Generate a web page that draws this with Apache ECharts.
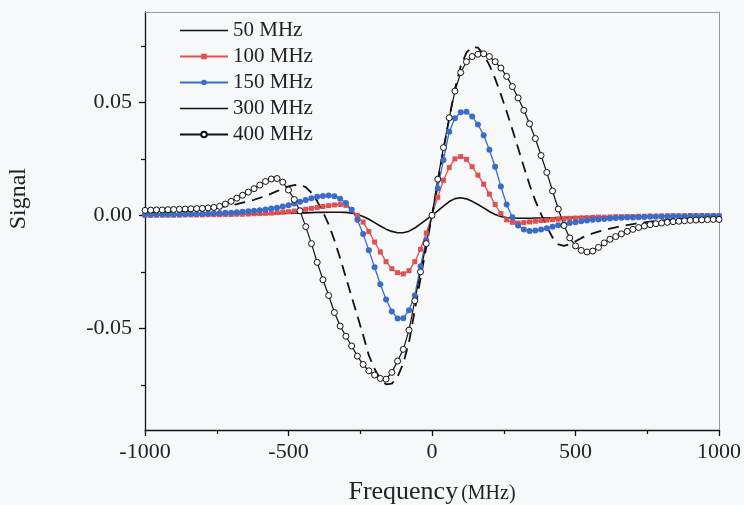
<!DOCTYPE html>
<html>
<head>
<meta charset="utf-8">
<script src="https://cdn.jsdelivr.net/npm/echarts@6/dist/echarts.min.js"></script>
<style>
html,body{margin:0;padding:0;background:#f7f8fa;}
#chart{width:744px;height:505px;}
</style>
</head>
<body>
<div id="chart"></div>
<script>
// Frequency grid (MHz)
const freq = [-1000,-980,-960,-940,-920,-900,-880,-860,-840,-820,-800,-780,-760,-740,-720,-700,-680,-660,-640,-620,-600,-580,-560,-540,-520,-500,-480,-460,-440,-420,-400,-380,-360,-340,-320,-300,-280,-260,-240,-220,-200,-180,-160,-140,-120,-100,-80,-60,-40,-20,0,20,40,60,80,100,120,140,160,180,200,220,240,260,280,300,320,340,360,380,400,420,440,460,480,500,520,540,560,580,600,620,640,660,680,700,720,740,760,780,800,820,840,860,880,900,920,940,960,980,1000];

const seriesNames = ['50 MHz','100 MHz','150 MHz','300 MHz','400 MHz'];

const s50 = [0.0001,0.0001,0.0001,0.0001,0.0001,0.0002,0.0002,0.0002,0.0002,0.0002,0.0003,0.0003,0.0003,0.0003,0.0004,0.0004,0.0004,0.0005,0.0005,0.0006,0.0006,0.0007,0.0007,0.0008,0.0008,0.0009,0.0010,0.0010,0.0011,0.0012,0.0013,0.0013,0.0014,0.0014,0.0014,0.0013,0.0010,0.0004,-0.0005,-0.0017,-0.0032,-0.0047,-0.0061,-0.0071,-0.0077,-0.0077,-0.0070,-0.0056,-0.0038,-0.0019,0.0000,0.0020,0.0041,0.0061,0.0074,0.0078,0.0073,0.0062,0.0048,0.0033,0.0017,0.0004,-0.0005,-0.0010,-0.0012,-0.0013,-0.0013,-0.0013,-0.0012,-0.0012,-0.0011,-0.0011,-0.0010,-0.0010,-0.0009,-0.0009,-0.0008,-0.0008,-0.0007,-0.0007,-0.0006,-0.0006,-0.0005,-0.0005,-0.0005,-0.0004,-0.0004,-0.0004,-0.0003,-0.0003,-0.0003,-0.0003,-0.0002,-0.0002,-0.0002,-0.0002,-0.0002,-0.0001,-0.0001,-0.0001,-0.0001];

const s100 = [0.0000,0.0000,0.0001,0.0001,0.0001,0.0001,0.0001,0.0002,0.0002,0.0002,0.0002,0.0003,0.0003,0.0003,0.0004,0.0004,0.0005,0.0005,0.0006,0.0007,0.0008,0.0009,0.0010,0.0012,0.0014,0.0016,0.0019,0.0023,0.0027,0.0031,0.0035,0.0039,0.0043,0.0046,0.0048,0.0044,0.0025,0.0000,-0.0030,-0.0072,-0.0118,-0.0162,-0.0205,-0.0236,-0.0254,-0.0259,-0.0245,-0.0205,-0.0150,-0.0078,0.0000,0.0080,0.0155,0.0212,0.0250,0.0260,0.0248,0.0215,0.0178,0.0138,0.0094,0.0048,0.0008,-0.0020,-0.0031,-0.0034,-0.0032,-0.0029,-0.0026,-0.0023,-0.0021,-0.0019,-0.0017,-0.0015,-0.0013,-0.0012,-0.0011,-0.0010,-0.0009,-0.0008,-0.0008,-0.0007,-0.0006,-0.0006,-0.0005,-0.0005,-0.0004,-0.0004,-0.0003,-0.0003,-0.0003,-0.0002,-0.0002,-0.0002,-0.0002,-0.0001,-0.0001,-0.0001,-0.0001,-0.0001,-0.0001];

const s150 = [0.0003,0.0003,0.0003,0.0004,0.0004,0.0004,0.0005,0.0005,0.0006,0.0006,0.0007,0.0008,0.0009,0.0010,0.0011,0.0012,0.0014,0.0016,0.0018,0.0020,0.0023,0.0026,0.0030,0.0034,0.0039,0.0045,0.0052,0.0060,0.0068,0.0076,0.0082,0.0086,0.0088,0.0085,0.0074,0.0055,0.0025,-0.0020,-0.0082,-0.0155,-0.0230,-0.0305,-0.0372,-0.0425,-0.0456,-0.0455,-0.0420,-0.0355,-0.0225,-0.0110,0.0000,0.0120,0.0245,0.0370,0.0430,0.0456,0.0458,0.0437,0.0402,0.0355,0.0290,0.0215,0.0128,0.0048,-0.0008,-0.0045,-0.0063,-0.0069,-0.0067,-0.0063,-0.0057,-0.0050,-0.0044,-0.0039,-0.0034,-0.0030,-0.0026,-0.0023,-0.0020,-0.0018,-0.0016,-0.0014,-0.0012,-0.0011,-0.0010,-0.0009,-0.0008,-0.0007,-0.0006,-0.0006,-0.0005,-0.0005,-0.0004,-0.0004,-0.0004,-0.0003,-0.0003,-0.0003,-0.0003,-0.0003,-0.0003];

const s300 = [0.0010,0.0011,0.0012,0.0013,0.0014,0.0015,0.0017,0.0019,0.0021,0.0023,0.0026,0.0029,0.0032,0.0036,0.0040,0.0045,0.0050,0.0056,0.0062,0.0069,0.0077,0.0086,0.0096,0.0107,0.0118,0.0128,0.0134,0.0135,0.0125,0.0100,0.0062,0.0015,-0.0040,-0.0110,-0.0190,-0.0275,-0.0360,-0.0445,-0.0530,-0.0620,-0.0680,-0.0725,-0.0748,-0.0745,-0.0715,-0.0655,-0.0560,-0.0420,-0.0280,-0.0140,0.0000,0.0145,0.0290,0.0430,0.0560,0.0660,0.0720,0.0745,0.0742,0.0712,0.0665,0.0605,0.0535,0.0460,0.0380,0.0298,0.0215,0.0135,0.0065,0.0005,-0.0050,-0.0098,-0.0128,-0.0135,-0.0128,-0.0115,-0.0101,-0.0088,-0.0080,-0.0072,-0.0066,-0.0059,-0.0053,-0.0048,-0.0043,-0.0039,-0.0034,-0.0031,-0.0028,-0.0025,-0.0023,-0.0020,-0.0018,-0.0016,-0.0014,-0.0013,-0.0012,-0.0011,-0.0010,-0.0009,-0.0008];

const s400 = [0.0022,0.0023,0.0024,0.0024,0.0025,0.0026,0.0027,0.0028,0.0029,0.0030,0.0031,0.0033,0.0035,0.0040,0.0050,0.0062,0.0076,0.0089,0.0103,0.0118,0.0134,0.0150,0.0161,0.0163,0.0147,0.0112,0.0070,0.0020,-0.0050,-0.0125,-0.0208,-0.0285,-0.0355,-0.0430,-0.0490,-0.0535,-0.0578,-0.0623,-0.0660,-0.0688,-0.0707,-0.0722,-0.0725,-0.0695,-0.0645,-0.0593,-0.0508,-0.0378,-0.0250,-0.0125,0.0000,0.0160,0.0300,0.0432,0.0550,0.0632,0.0680,0.0703,0.0713,0.0715,0.0703,0.0680,0.0652,0.0615,0.0570,0.0520,0.0465,0.0405,0.0340,0.0265,0.0190,0.0108,0.0028,-0.0045,-0.0100,-0.0135,-0.0155,-0.0162,-0.0158,-0.0142,-0.0122,-0.0106,-0.0094,-0.0082,-0.0071,-0.0062,-0.0054,-0.0047,-0.0041,-0.0037,-0.0034,-0.0031,-0.0028,-0.0026,-0.0024,-0.0022,-0.0021,-0.0020,-0.0019,-0.0018,-0.0018];

const yMajorTicks = [-0.05, 0, 0.05];
const yMinorTicks = [-0.075, -0.025, 0.025, 0.075];

function pairs(vals){ return freq.map((f,i)=>[f, vals[i]]); }

const FONT = '"Liberation Serif", "Times New Roman", serif';
// plain line legend icon (thin bar centred in a 48x7 box)
const LINE_ICON = 'path://M0,0 L0.01,0 L0,0 Z M0,2.7 L48,2.7 L48,4.3 L0,4.3 Z M0,7 L0.01,7 L0,7 Z';
const chart = echarts.init(document.getElementById('chart'), null, {renderer:'canvas'});

const option = {
  backgroundColor: '#f7f8fa',
  animation: false,
  textStyle: {fontFamily: FONT},
  grid: {left: 145, right: 25, top: 12, bottom: 75, containLabel: false, outerBoundsMode: 'none'},
  legend: {
    orient: 'vertical',
    left: 174, top: 15,
    itemWidth: 48, itemHeight: 7, itemGap: 5,
    textStyle: {fontFamily: FONT, fontSize: 21, color: '#222', lineHeight: 21},
    data: [
      {name: seriesNames[0], icon: LINE_ICON},
      {name: seriesNames[1]},
      {name: seriesNames[2]},
      {name: seriesNames[3], icon: LINE_ICON},
      {name: seriesNames[4]}
    ]
  },
  xAxis: [{
    type: 'value', min: -1000, max: 1000, interval: 500,
    position: 'bottom',
    axisLine: {show: true, onZero: false, lineStyle: {color: '#111', width: 1.3}},
    axisTick: {show: true, inside: false, length: 6, lineStyle: {color: '#111', width: 1.3}},
    minorTick: {show: true, splitNumber: 2, length: 4, lineStyle: {color: '#111', width: 1.2}},
    splitLine: {show: false},
    axisLabel: {fontFamily: FONT, fontSize: 22, color: '#222', margin: 11, formatter: v => String(v)},
    name: '{a|Frequency} {b|(MHz)}',
    nameLocation: 'middle', nameGap: 49,
    nameTextStyle: {rich: {a: {fontFamily: FONT, fontSize: 26, color: '#222'}, b: {fontFamily: FONT, fontSize: 20, color: '#222', padding:[4,0,0,0]}}}
  },{
    type: 'value', min: -1000, max: 1000, position: 'top',
    axisLine: {show: true, onZero: false, lineStyle: {color: '#9a9a9a', width: 1}},
    axisTick: {show: false}, axisLabel: {show: false}, splitLine: {show: false}
  }],
  yAxis: [{
    type: 'value', min: -0.095, max: 0.09,
    position: 'left',
    axisLine: {show: true, onZero: false, lineStyle: {color: '#111', width: 1.3}},
    axisTick: {show: true, inside: false, length: 6, customValues: yMajorTicks, lineStyle: {color: '#111', width: 1.3}},
    axisLabel: {fontFamily: FONT, fontSize: 22, color: '#222', margin: 13, customValues: yMajorTicks,
      formatter: v => v.toFixed(2)},
    splitLine: {show: false}
  },{
    type: 'value', min: -0.095, max: 0.09,
    position: 'left',
    axisLine: {show: true, onZero: false, lineStyle: {color: 'rgba(0,0,0,0)', width: 0}},
    axisTick: {show: true, inside: false, length: 4, customValues: yMinorTicks, lineStyle: {color: '#111', width: 1.2}},
    axisLabel: {show: false},
    splitLine: {show: false}
  },{
    type: 'value', min: -0.095, max: 0.09,
    position: 'right',
    axisLine: {show: true, onZero: false, lineStyle: {color: '#9a9a9a', width: 1}},
    axisTick: {show: false}, axisLabel: {show: false}, splitLine: {show: false}
  }],
  graphic: [{
    type: 'text', left: 7, top: 168, rotation: Math.PI/2,
    style: {text: 'Signal', font: '24px "Liberation Serif", serif', fill: '#222'}
  }],
  series: [
    {name: seriesNames[0], type: 'line', data: pairs(s50), showSymbol: false, symbol: 'none',
     lineStyle: {color: '#111', width: 1.6}, itemStyle: {color: '#111'}},
    {name: seriesNames[1], type: 'line', data: pairs(s100), symbol: 'rect', symbolSize: 5,
     lineStyle: {color: '#e05050', width: 1.3}, itemStyle: {color: '#e05050'}},
    {name: seriesNames[2], type: 'line', data: pairs(s150), symbol: 'circle', symbolSize: 6,
     lineStyle: {color: '#3a6cc8', width: 1.3}, itemStyle: {color: '#3a6cc8'}},
    {name: seriesNames[3], type: 'line', data: pairs(s300), showSymbol: false, symbol: 'none',
     lineStyle: {color: '#111', width: 1.8, type: [11, 7]}, itemStyle: {color: '#111'}},
    {name: seriesNames[4], type: 'line', data: pairs(s400), symbol: 'circle', symbolSize: 6,
     lineStyle: {color: '#111', width: 1.2},
     itemStyle: {color: '#ffffff', borderColor: '#111', borderWidth: 1}}
  ]
};
chart.setOption(option);
</script>
</body>
</html>
